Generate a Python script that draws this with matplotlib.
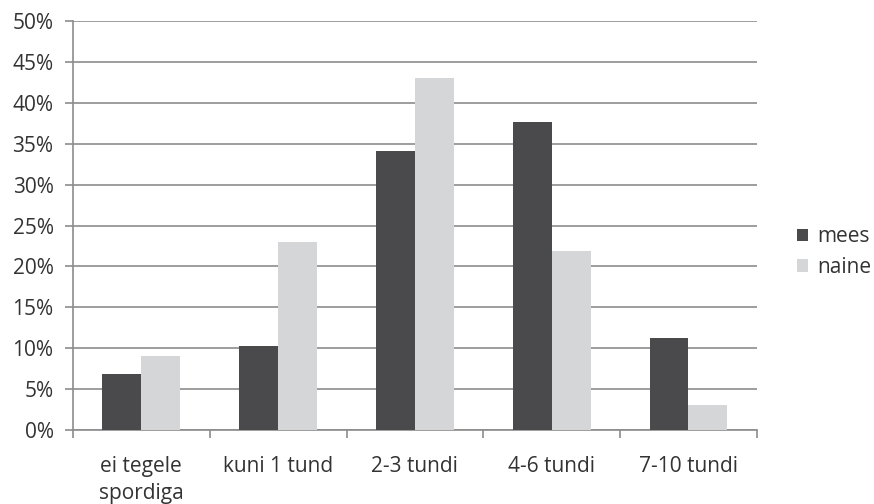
import matplotlib
matplotlib.use("Agg")
import matplotlib.pyplot as plt
import numpy as np

categories = ["ei tegele\nspordiga", "kuni 1 tund", "2-3 tundi", "4-6 tundi", "7-10 tundi"]
mees = [6.8, 10.3, 34.1, 37.6, 11.3]
naine = [9.0, 23.0, 43.0, 21.9, 3.1]
yticks = [0, 5, 10, 15, 20, 25, 30, 35, 40, 45, 50]

plt.rcParams['font.family'] = ['Open Sans', 'DejaVu Sans']
text_color = "#333333"
grid_color = "#8c8c8c"
fs = 15

fig = plt.figure(figsize=(8.74, 5.04), dpi=100)
ax = fig.add_axes([0.0835, 0.1468, 0.7825, 0.8115])

x = np.arange(len(categories))
w = 0.285
ax.bar(x - w / 2, mees, width=w, color="#4a4a4c", label="mees", zorder=3)
ax.bar(x + w / 2, naine, width=w, color="#d5d6d8", label="naine", zorder=3)

ax.set_xlim(-0.5, len(categories) - 0.5)
ax.set_ylim(0, 50)
ax.set_yticks(yticks)
ax.set_yticklabels([f"{t}%" for t in yticks])
ax.yaxis.grid(True, color=grid_color, linewidth=1.2, zorder=0)

# category labels centred, boundary ticks below the axis
ax.set_xticks(x)
ax.set_xticklabels(categories, linespacing=1.35)
ax.set_xticks(np.arange(len(categories) + 1) - 0.5, minor=True)
ax.tick_params(axis="x", which="major", length=0, pad=19, labelsize=fs, labelcolor=text_color)
ax.tick_params(axis="x", which="minor", length=6, width=1.2, color=grid_color)
ax.tick_params(axis="y", length=6, width=1.2, color=grid_color, pad=8, labelsize=fs, labelcolor=text_color)

for side in ["top", "right"]:
    ax.spines[side].set_visible(False)
for side in ["left", "bottom"]:
    ax.spines[side].set_color(grid_color)
    ax.spines[side].set_linewidth(1.2)

leg = ax.legend(loc="center left", bbox_to_anchor=(1.058, 0.435), frameon=False,
                borderpad=0, borderaxespad=0,
                fontsize=fs, handlelength=0.55, handleheight=0.55, handletextpad=0.45,
                labelspacing=0.45, labelcolor=text_color)

fig.savefig("out.png", dpi=100)
